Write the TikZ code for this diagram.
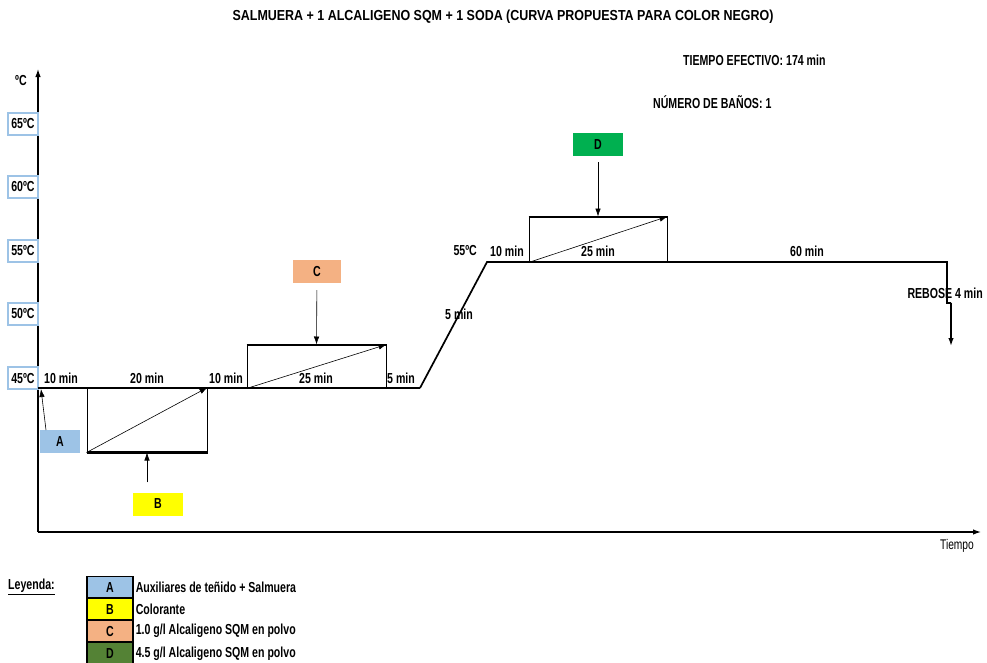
\documentclass[tikz,border=0pt]{standalone}
\usepackage{fontspec}
\setmainfont{Liberation Sans}[FakeStretch=0.73]
\newfontfamily\titlefont{Liberation Sans}[FakeStretch=0.86]
\usetikzlibrary{positioning, arrows.meta}

\definecolor{tempblue}{HTML}{9DC3E6}
\definecolor{colA}{HTML}{9DC3E6}
\definecolor{colB}{HTML}{FFFF00}
\definecolor{colC}{HTML}{F4B183}
\definecolor{colD}{HTML}{00B050}
\definecolor{colDleg}{HTML}{548235}

\begin{document}
\begin{tikzpicture}[x = 1pt, y = -1pt, > = {Latex[length = 8pt, width = 5.5pt]},
	every node/.style = {text = black, font = \fontsize{14.5}{16}\selectfont\bfseries, inner sep = 0pt},
	templabel/.style = {draw = tempblue, line width = 1.3pt, minimum width = 30, minimum height = 22},
	dosebox/.style = {minimum width = 48, minimum height = 23},
	stagebox/.style = {draw, line width = 1pt},
	curve/.style = {line width = 2.4pt},
	pointer/.style = {->, line width = 0.6pt},
	legrow/.style = {draw, line width = 1.1pt, minimum width = 46, minimum height = 21}]

	\useasboundingbox (0, 0) rectangle (987, 662);

	% Titles

	\node (title) [font = \titlefont\fontsize{14.5}{16}\selectfont\bfseries] at (503, 17) {SALMUERA + 1 ALCALIGENO SQM + 1 SODA (CURVA PROPUESTA PARA COLOR NEGRO)};
	\node (tiempo) [anchor = west] at (683, 60) {TIEMPO EFECTIVO: 174 min};
	\node (banos) [anchor = west] at (653, 102) {NÚMERO DE BAÑOS: 1};

	% Axes

	\coordinate (origin) at (38, 532);
	\coordinate (ytop) at (38, 69);
	\coordinate (xend) at (981, 532);
	\draw [->, line width = 1.2pt] (origin) -- (ytop);
	\draw [->, line width = 1.2pt] (origin) -- (xend);
	\node (ylabel) at (21, 81) {ºC};
	\node (xlabel) [font = \fontsize{14}{15}\selectfont] at (957, 546) {Tiempo};

	% Temperature scale

	\foreach \t/\y in {65/124, 60/187, 55/251, 50/314, 45/378}
		\node (t\t) [templabel] at (23, \y) {\t ºC};

	% Temperature curve

	\coordinate (c0) at (38, 388);
	\coordinate (c1) at (420, 388);
	\coordinate (c2) at (487, 262);
	\coordinate (c3) at (947, 262);
	\coordinate (c4) at (947, 303);
	\coordinate (c5) at (951, 303);
	\coordinate (c6) at (951, 346);

	\draw [curve] (c0) -- (c1);
	\draw [line width = 1.7pt] (c1) -- (c2) -- (c3) -- (c4) -- (c5);
	\draw [->, line width = 1.5pt] (c5) -- (c6);

	% Stage boxes with dosing ramps

	\node (boxB) [stagebox, minimum width = 120, minimum height = 64] at (147, 420) {};
	\node (boxC) [stagebox, minimum width = 139, minimum height = 43] at (316.5, 366.5) {};
	\node (boxD) [stagebox, minimum width = 138, minimum height = 45] at (598, 239.5) {};

	\draw [curve] (boxB.south west) -- (boxB.south east);
	\draw [line width = 1.7pt] (boxC.north west) -- (boxC.north east);
	\draw [line width = 1.7pt] (boxD.north west) -- (boxD.north east);

	\foreach \b in {boxB, boxC, boxD}
		\draw [pointer] (\b.south west) -- (\b.north east);

	% Dosing labels

	\node (labA) [dosebox, fill = colA, minimum width = 40] at (60, 441.5) {A};
	\node (labB) [dosebox, fill = colB, minimum width = 50] at (158, 504) {B};
	\node (labC) [dosebox, fill = colC] at (317, 271.5) {C};
	\node (labD) [dosebox, fill = colD, minimum width = 50] at (598, 144.5) {D};

	\coordinate (startA) at (46, 430);
	\coordinate (endA) at (41, 389);
	\draw [pointer] (startA) -- (endA);
	\draw [pointer, shorten < = 10pt] (labB.north -| boxB.south) -- (boxB.south);
	\draw [pointer, shorten < = 7pt] (labC) -- (boxC.north);
	\draw [pointer, shorten < = 6pt] (labD.south -| boxD.north) -- (boxD.north);

	% Stage times

	\node (m1) [anchor = west] at (44, 378) {10 min};
	\node (m2) at (147, 378) {20 min};
	\node (m3) [anchor = west] at (209, 378) {10 min};
	\node (m4) at (316, 378) {25 min};
	\node (m5) [anchor = west] at (387, 378) {5 min};
	\node (m6) at (459, 314) {5 min};
	\node (t55) [anchor = east] at (477, 251) {55ºC};
	\node (m7) [anchor = west] at (490, 251) {10 min};
	\node (m8) at (598, 251) {25 min};
	\node (m9) at (807, 251) {60 min};
	\node (rebose) [anchor = east] at (983, 293) {REBOSE 4 min};

	% Legend

	\node (leyenda) [anchor = west] at (8, 587) {\underline{Leyenda:}};
	\node (legA) [legrow, fill = colA] at (110, 587) {A};
	\node (legB) [legrow, fill = colB, below = 0pt of legA] {B};
	\node (legC) [legrow, fill = colC, below = 0pt of legB] {C};
	\node (legD) [legrow, fill = colDleg, below = 0pt of legC] {D};

	\node (txtA) [anchor = west, right = 2pt of legA] {Auxiliares de teñido + Salmuera};
	\node (txtB) [anchor = west, right = 2pt of legB] {Colorante};
	\node (txtC) [anchor = west, right = 2pt of legC] {1.0 g/l Alcaligeno SQM en polvo};
	\node (txtD) [anchor = west, right = 2pt of legD] {4.5 g/l Alcaligeno SQM en polvo};

\end{tikzpicture}
\end{document}
